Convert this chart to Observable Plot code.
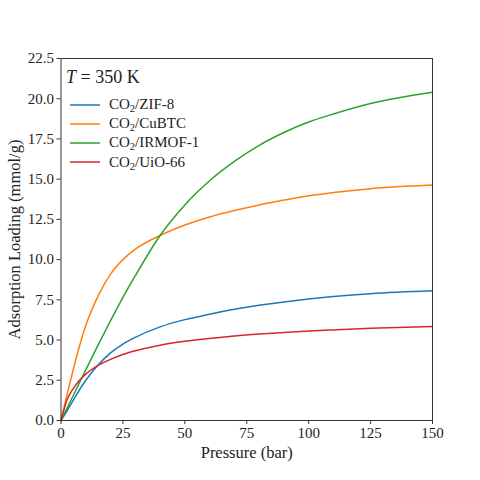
<!DOCTYPE html>
<html>
<head>
<meta charset="utf-8">
<script src="https://cdn.jsdelivr.net/npm/d3@7"></script>
<script src="https://cdn.jsdelivr.net/npm/@observablehq/plot@0.6"></script>
<style>
  html, body { margin: 0; padding: 0; background: #fff; }
  #wrap { position: relative; width: 480px; height: 480px; font-family: "Liberation Serif", serif; color: #222; }
  #legend { position: absolute; left: 66px; top: 67px; }
  #legend .title { font-size: 18px; margin-bottom: 7px; }
  #legend .row { display: flex; align-items: center; height: 19.2px; font-size: 15px; }
  #legend .row svg { margin-left: 4px; margin-right: 9px; }
  sub { font-size: 70%; vertical-align: -3px; line-height: 0; }
</style>
</head>
<body>
<div id="wrap"><div id="chart"></div><div id="legend"></div></div>
<script>
const pressure = [0, 2.5, 5, 7.5, 10, 15, 20, 25, 30, 40, 50, 60, 70, 80, 90, 100, 110, 125, 150];
const zif8   = [0, 0.62, 1.27, 1.91, 2.5, 3.45, 4.2, 4.75, 5.17, 5.82, 6.27, 6.61, 6.91, 7.16, 7.37, 7.55, 7.7, 7.88, 8.06];
const cubtc  = [0, 1.65, 3.2, 4.65, 5.9, 7.75, 9.1, 10.0, 10.65, 11.5, 12.15, 12.65, 13.05, 13.4, 13.7, 13.97, 14.17, 14.41, 14.63];
const irmof1 = [0, 0.78, 1.57, 2.36, 3.15, 4.7, 6.2, 7.65, 9.0, 11.5, 13.4, 14.9, 16.1, 17.1, 17.9, 18.55, 19.05, 19.7, 20.4];
const uio66  = [0, 1.3, 2.0, 2.5, 2.88, 3.42, 3.8, 4.1, 4.33, 4.68, 4.92, 5.1, 5.25, 5.37, 5.47, 5.56, 5.63, 5.73, 5.84];
const seriesNames = ["ZIF-8", "CuBTC", "IRMOF-1", "UiO-66"];
const seriesValues = [zif8, cubtc, irmof1, uio66];
const seriesColors = ["#1f77b4", "#ff7f0e", "#2ca02c", "#d62728"];
const xTicks = [0, 25, 50, 75, 100, 125, 150];
const yTicks = [0, 2.5, 5, 7.5, 10, 12.5, 15, 17.5, 20, 22.5];
const xLabel = "Pressure (bar)";
const yLabel = "Adsorption Loading (mmol/g)";
const legendTitle = "350 K";

const rows = [];
seriesNames.forEach((name, i) => {
  pressure.forEach((p, j) => rows.push({p, q: seriesValues[i][j], series: name}));
});

const chart = Plot.plot({
  width: 480,
  height: 480,
  marginLeft: 60.5,
  marginRight: 48,
  marginTop: 58,
  marginBottom: 60,
  style: {fontFamily: "Liberation Serif, serif", fontSize: "15px", color: "#222", background: "#fff"},
  x: {domain: [0, 150], axis: null},
  y: {domain: [0, 22.5], axis: null},
  color: {domain: seriesNames, range: seriesColors},
  marks: [
    Plot.line(rows, {x: "p", y: "q", z: "series", stroke: "series", strokeWidth: 1.5, curve: "monotone-x"}),
    Plot.frame({stroke: "#333", strokeWidth: 1}),
    Plot.axisX({ticks: xTicks, tickSize: 4, tickPadding: 3, tickFormat: d => String(d), label: null, stroke: "#333", fontSize: 15}),
    Plot.axisY({ticks: yTicks, tickSize: 4, tickPadding: 3, tickFormat: d => d.toFixed(1), label: null, stroke: "#333", fontSize: 15}),
    Plot.text([xLabel], {frameAnchor: "bottom", lineAnchor: "middle", textAnchor: "middle", dy: 32, fontSize: 16.5, fill: "#222"}),
    Plot.text([yLabel], {frameAnchor: "left", lineAnchor: "middle", textAnchor: "middle", dx: -46, rotate: -90, fontSize: 16.5, fill: "#222"})
  ]
});
document.getElementById("chart").appendChild(chart);

const legend = document.getElementById("legend");
const t = document.createElement("div");
t.className = "title";
t.innerHTML = "<i>T</i> = " + legendTitle;
legend.appendChild(t);
seriesNames.forEach((name, i) => {
  const r = document.createElement("div");
  r.className = "row";
  r.innerHTML = `<svg width="30" height="4"><line x1="0" y1="2" x2="30" y2="2" stroke="${seriesColors[i]}" stroke-width="1.5"/></svg><span>CO<sub>2</sub>/${name}</span>`;
  legend.appendChild(r);
});
</script>
</body>
</html>
